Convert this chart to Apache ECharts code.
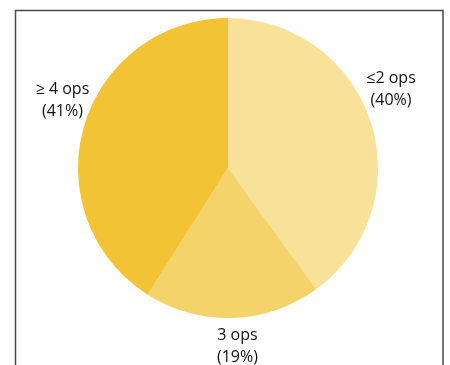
<!DOCTYPE html>
<html>
<head>
<meta charset="utf-8">
<script src="https://cdn.jsdelivr.net/npm/echarts@6/dist/echarts.min.js"></script>
<style>
  html, body { margin: 0; padding: 0; background: #fff; }
  #chart { width: 450px; height: 365px; }
</style>
</head>
<body>
<div id="chart"></div>
<script>
  var categories = ['≤2 ops', '3 ops', '≥ 4 ops'];
  var shares = [40, 19, 41];
  var colors = ['#F8E29A', '#F5D36B', '#F2C335'];

  // label nudges (label centre relative to the default outside position)
  var labelShift = [[-17, -30], [-21, 21], [18, -23]];

  var myChart = echarts.init(document.getElementById('chart'));
  var pieData = categories.map(function (name, i) {
    return { name: name, value: shares[i], itemStyle: { color: colors[i] } };
  });

  var option = {
    backgroundColor: '#fff',
    animation: false,
    graphic: [{
      type: 'rect',
      shape: { x: 15.5, y: 10.5, width: 427.5, height: 400 },
      style: { fill: 'none', stroke: '#4a4a4a', lineWidth: 1.5 },
      z: -1
    }],
    series: [{
      type: 'pie',
      center: [228, 168],
      radius: [0, 150],
      startAngle: 90,
      clockwise: true,
      data: pieData,
      label: {
        show: true,
        position: 'outside',
        formatter: function (p) { return p.name + '\n(' + p.value + '%)'; },
        fontFamily: 'Open Sans',
        fontSize: 16,
        lineHeight: 22,
        color: '#111',
        align: 'center'
      },
      labelLine: { show: false, length: 8, length2: 0 },
      labelLayout: function (params) {
        var r = params.labelRect;
        var s = labelShift[params.dataIndex];
        return {
          x: r.x + r.width / 2 + s[0],
          y: r.y + r.height / 2 + s[1],
          align: 'center',
          verticalAlign: 'middle'
        };
      },
      emphasis: { disabled: true }
    }]
  };
  myChart.setOption(option);
</script>
</body>
</html>
